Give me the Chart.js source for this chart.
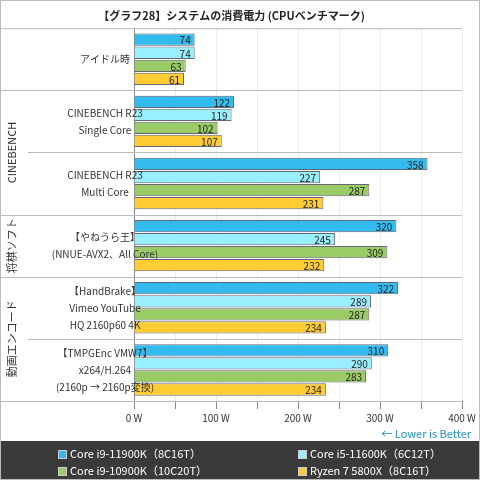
<!DOCTYPE html>
<html><head><meta charset="utf-8">
<script src="https://cdn.jsdelivr.net/npm/chart.js@4"></script>
<style>
body{margin:0;background:#fff;font-family:"Noto Sans CJK JP",sans-serif}
#wrap{position:relative;width:478px;height:478px;border:1px solid #bbb}
#c{position:absolute;left:0;top:0}
#lib{position:absolute;right:8px;top:424px;color:#1a8fd6;font-size:11px}
#leg{position:absolute;left:0;top:440px;width:478px;height:38px;background:#3a3a3a;color:#fff;font-size:11px}
#leg span{position:absolute}
#leg i{display:inline-block;width:7px;height:7px;border:1px solid #ccc;margin-right:3px;vertical-align:-1px}
</style></head><body>
<div id="wrap"><canvas id="c" width="478" height="440"></canvas>
<div id="lib">← Lower is Better</div>
<div id="leg"></div></div>
<script>
var categories = [['アイドル時'], ['CINEBENCH R23', 'Single Core'], ['CINEBENCH R23', 'Multi Core'],
  ['【やねうら王】', '(NNUE-AVX2、All Core)'], ['【HandBrake】', 'Vimeo YouTube', 'HQ 2160p60 4K'],
  ['【TMPGEnc VMW7】', 'x264/H.264', '(2160p → 2160p変換)']];
var seriesNames = ['Core i9-11900K（8C16T）', 'Core i5-11600K（6C12T）', 'Core i9-10900K（10C20T）', 'Ryzen 7 5800X（8C16T）'];
var i9_11900k = [74, 122, 358, 320, 322, 310];
var i5_11600k = [74, 119, 227, 245, 289, 290];
var i9_10900k = [63, 102, 287, 309, 287, 283];
var r7_5800x = [61, 107, 231, 232, 234, 234];
var colors = ['#33bbee', '#99eeff', '#99cc66', '#ffcc33'];
var groups = [{name: 'CINEBENCH', from: 1, to: 2}, {name: '将棋ソフト', from: 3, to: 3}, {name: '動画エンコード', from: 4, to: 5}];
var font = '"Noto Sans CJK JP", sans-serif';

var leg = document.getElementById('leg');
var pos = [[57, 7], [297, 7], [57, 24], [297, 24]];
seriesNames.forEach(function (n, i) {
  var s = document.createElement('span');
  s.style.left = pos[i][0] + 'px'; s.style.top = (pos[i][1] - 3) + 'px';
  s.innerHTML = '<i style="background:' + colors[i] + '"></i>' + n;
  leg.appendChild(s);
});

var extras = {
  id: 'extras',
  afterDatasetsDraw: function (chart) {
    var c = chart.ctx, y = chart.scales.y, a = chart.chartArea;
    c.save();
    c.font = '10px ' + font; c.fillStyle = '#222'; c.textAlign = 'right'; c.textBaseline = 'middle';
    chart.data.datasets.forEach(function (ds, di) {
      chart.getDatasetMeta(di).data.forEach(function (b, i) {
        c.fillText(ds.data[i], b.x - 4, b.y + 1);
      });
    });
    c.fillStyle = '#333'; c.textAlign = 'center';
    categories.forEach(function (lines, i) {
      var cy = y.getPixelForValue(i), lh = 17;
      lines.forEach(function (t, k) {
        c.fillText(t, 104, cy + (k - (lines.length - 1) / 2) * lh);
      });
    });
    c.strokeStyle = '#bbb'; c.lineWidth = 1;
    c.beginPath(); c.moveTo(0, a.top + 0.5); c.lineTo(a.right, a.top + 0.5);
    c.moveTo(0, a.bottom + 0.5); c.lineTo(a.right, a.bottom + 0.5); c.stroke();
    for (var i = 1; i < categories.length; i++) {
      var yy = Math.round((y.getPixelForValue(i - 1) + y.getPixelForValue(i)) / 2) + 0.5;
      var inner = (i === 2 || i === 5);
      c.beginPath(); c.moveTo(inner ? 27 : 0, yy); c.lineTo(a.right, yy); c.stroke();
    }
    c.font = '11px ' + font;
    groups.forEach(function (g) {
      var cy = (y.getPixelForValue(g.from) + y.getPixelForValue(g.to)) / 2;
      c.save(); c.translate(11, cy); c.rotate(-Math.PI / 2); c.fillText(g.name, 0, 0); c.restore();
    });
    c.restore();
  }
};

new Chart(document.getElementById('c'), {
  type: 'bar',
  data: {
    labels: categories,
    datasets: [i9_11900k, i5_11600k, i9_10900k, r7_5800x].map(function (d, i) {
      return {label: seriesNames[i], data: d, backgroundColor: colors[i], borderColor: '#667', borderWidth: 1,
        categoryPercentage: 0.84, barPercentage: 0.94};
    })
  },
  options: {
    indexAxis: 'y', responsive: false, animation: false,
    layout: {padding: {left: 0, right: 17, top: 0, bottom: 14}},
    plugins: {
      legend: {display: false}, tooltip: {enabled: false},
      title: {display: true, text: '【グラフ28】システムの消費電力 (CPUベンチマーク)', color: '#222',
        font: {family: font, size: 11, weight: 'bold'}, padding: {top: 8, bottom: 6}}
    },
    scales: {
      x: {min: 0, max: 400, ticks: {stepSize: 50, color: '#333', font: {family: font, size: 10},
          callback: function (v) { return v % 100 === 0 ? v + ' W' : ''; }},
        grid: {color: '#eee', tickColor: '#888', tickLength: 8}, border: {color: '#888'}},
      y: {afterFit: function (s) { s.width = 133; },
        ticks: {display: false},
        grid: {display: false}, border: {color: '#888'}}
    }
  },
  plugins: [extras]
});
</script></body></html>
